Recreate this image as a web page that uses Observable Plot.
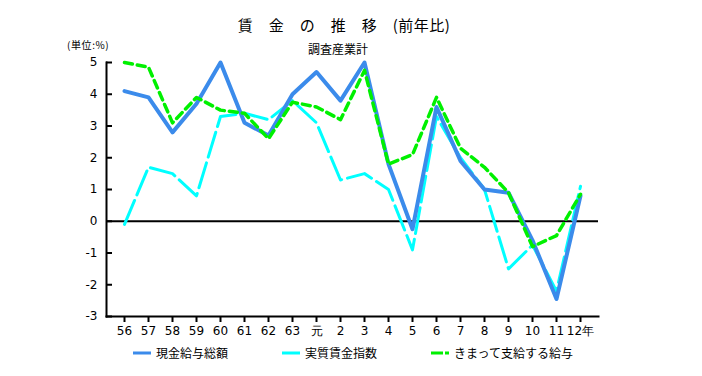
<!DOCTYPE html>
<html><head><meta charset="utf-8">
<script src="https://cdn.jsdelivr.net/npm/d3@7"></script>
<script src="https://cdn.jsdelivr.net/npm/@observablehq/plot@0.6"></script>
<style>
body{margin:0;background:#fff;font-family:"Noto Sans CJK JP","DejaVu Sans",sans-serif;}
#wrap{position:relative;width:702px;height:376px;}
.t{position:absolute;white-space:nowrap;color:#000;}
.leg{position:absolute;top:344px;font-size:12px;display:flex;align-items:center;}
</style></head><body>
<div id="wrap">
<div class="t" style="left:0;width:688px;text-align:center;top:14px;font-size:15px;letter-spacing:0.5px;">賃　金　の　推　移　(前年比)</div>
<div class="t" style="left:0;width:676px;text-align:center;top:40px;font-size:12px;">調査産業計</div>
<div class="t" style="left:67px;top:37px;font-size:10px;letter-spacing:0.6px;">(単位:%)</div>
<div id="chart"></div>
<div class="leg" style="left:133px;"><svg width="18" height="6"><line x1="0" x2="18" y1="3" y2="3" stroke="#3b8beb" stroke-width="3"/></svg><span style="margin-left:5px">現金給与総額</span></div>
<div class="leg" style="left:282px;"><svg width="18" height="6"><line x1="0" x2="18" y1="3" y2="3" stroke="#00ffff" stroke-width="3"/></svg><span style="margin-left:5px">実質賃金指数</span></div>
<div class="leg" style="left:431px;"><svg width="18" height="6"><line x1="0" x2="18" y1="3" y2="3" stroke="#00f000" stroke-width="3" stroke-dasharray="12,2,4,10"/></svg><span style="margin-left:5px">きまって支給する給与</span></div>
</div>
<script>
const years = ["56","57","58","59","60","61","62","63","元","2","3","4","5","6","7","8","9","10","11","12年"];
const genkin = [4.1,3.9,2.8,3.7,5.0,3.1,2.7,4.0,4.7,3.8,5.0,1.8,-0.25,3.6,1.9,1.0,0.9,-0.6,-2.45,0.8];
const jisshitsu = [-0.1,1.7,1.5,0.8,3.3,3.4,3.2,3.8,3.1,1.3,1.5,1.0,-0.9,3.3,2.0,1.0,-1.5,-0.75,-2.2,1.1];
const kimatte = [5.0,4.85,3.1,3.9,3.5,3.4,2.6,3.75,3.6,3.2,4.75,1.8,2.1,3.9,2.3,1.7,0.9,-0.8,-0.45,0.85];
const yTicks = [-3,-2,-1,0,1,2,3,4,5];

const rows = (vals) => years.map((y,i)=>({year:y, v:vals[i]}));

const chart = Plot.plot({
  width: 702, height: 376,
  marginLeft: 106, marginRight: 104, marginTop: 62, marginBottom: 60,
  style: {fontFamily: '"DejaVu Sans",sans-serif', fontSize: "12px", color: "#000", background: "transparent"},
  x: {type: "point", domain: years, padding: 0.53, label: null},
  y: {domain: [-3, 5], label: null},
  marks: [
    Plot.frame({anchor: "left", stroke: "#000", strokeWidth: 2, strokeOpacity: 1}),
    Plot.frame({anchor: "bottom", stroke: "#000", strokeWidth: 2, strokeOpacity: 1}),
    Plot.ruleY([0], {stroke: "#000", strokeWidth: 2}),
    Plot.axisY({ticks: yTicks, tickSize: -6, tickPadding: 15, strokeWidth: 2, fontSize: 12, label: null, tickFormat: d => String(d)}),
    Plot.axisX({tickSize: 6, tickPadding: 4, strokeWidth: 2, fontSize: 12, label: null}),
    Plot.line(rows(jisshitsu), {x: "year", y: "v", stroke: "#00ffff", strokeWidth: 3, strokeDasharray: "26,6", curve: "linear"}),
    Plot.line(rows(genkin), {x: "year", y: "v", stroke: "#3b8beb", strokeWidth: 4, curve: "linear"}),
    Plot.line(rows(kimatte), {x: "year", y: "v", stroke: "#00f000", strokeWidth: 3.5, strokeDasharray: "8,5", curve: "linear"})
  ]
});
document.getElementById("chart").appendChild(chart);
</script>
</body></html>
